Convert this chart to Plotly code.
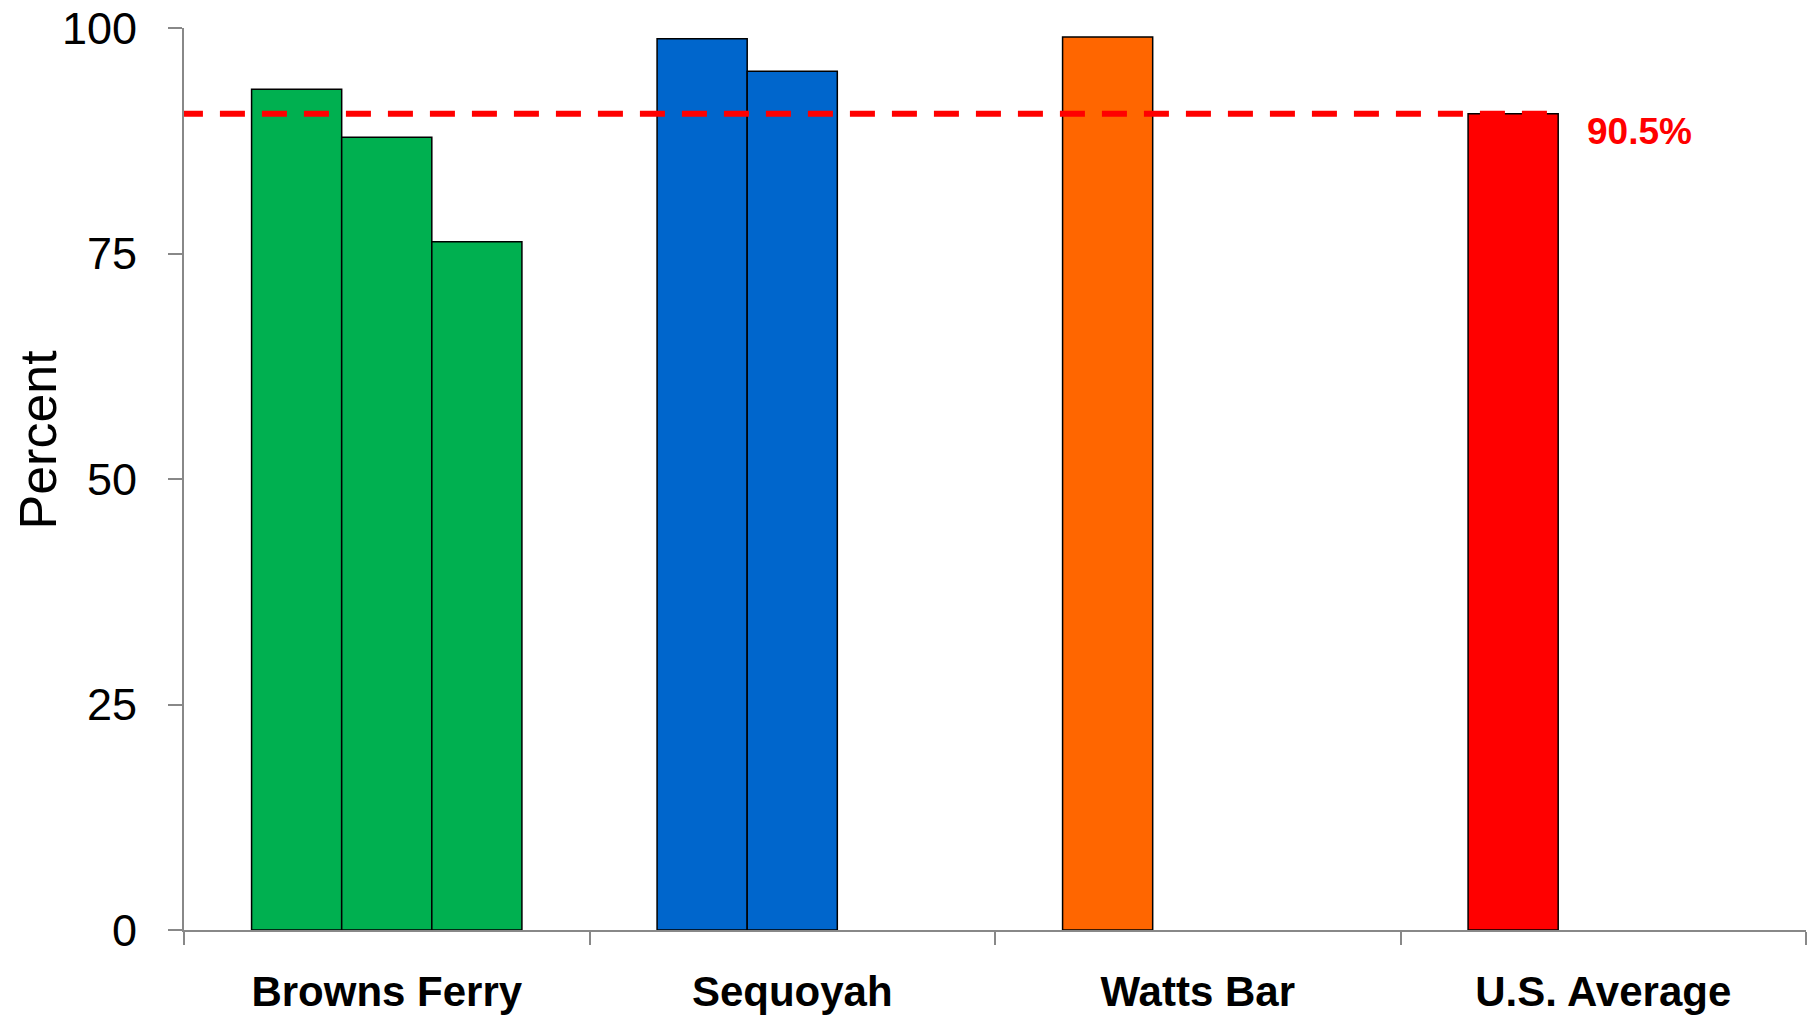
import plotly.graph_objects as go

categories = ["Browns Ferry", "Sequoyah", "Watts Bar", "U.S. Average"]
unit1 = [93.2, 98.8, 99.0, 90.5]
unit2 = [87.9, 95.2, None, None]
unit3 = [76.3, None, None, None]
plant_colors = ["#00B050", "#0066CC", "#FF6600", "#FF0000"]
us_average = 90.5
avg_label = "90.5%"
y_ticks = [0, 25, 50, 75, 100]

W, H = 1808, 1018
PL, PR, PT, PB = 184, 1806, 28, 930  # plot area in page px

fig = go.Figure()
for vals in (unit1, unit2, unit3):
    fig.add_trace(go.Bar(
        x=categories, y=vals,
        marker=dict(color=plant_colors, line=dict(color="black", width=1.5)),
        showlegend=False, hoverinfo="skip",
    ))

# dashed reference line for U.S. average
fig.add_shape(type="line", xref="x", yref="y",
              x0=-0.515, x1=2.87, y0=us_average, y1=us_average,
              line=dict(color="#FF0000", width=6, dash="25px,17px"), layer="above")

fig.add_annotation(x=(1639 - PL) / (PR - PL), xref="paper", y=us_average, yref="y",
                   xanchor="center", yanchor="middle",
                   text=f"<b>{avg_label}</b>", showarrow=False,
                   font=dict(family="Liberation Sans, Arial", size=37, color="#FF0000"),
                   yshift=-18)

fig.add_annotation(text="Percent", textangle=-90, showarrow=False,
                   xref="paper", yref="paper", xanchor="center", yanchor="middle",
                   x=(37.5 - PL) / (PR - PL), y=(PB - 440) / (PB - PT),
                   font=dict(family="Liberation Sans, Arial", size=52, color="black"))

fig.update_layout(
    width=W, height=H,
    margin=dict(l=PL, r=W - PR, t=PT, b=H - PB, autoexpand=False),
    plot_bgcolor="white", paper_bgcolor="white",
    barmode="group", bargap=1/3, bargroupgap=0,
    font=dict(family="Liberation Sans, Arial", color="black"),
)
fig.update_xaxes(
    automargin=False,
    showline=True, linecolor="#888888", linewidth=2,
    ticks="outside", ticklen=13, tickwidth=2, tickcolor="#888888",
    tickson="boundaries", showgrid=False, range=[-0.5, 3.5],
    tickfont=dict(family="Liberation Sans, Arial", size=42, color="black"),
    ticklabelstandoff=24, ticklabeloverflow="allow",
    tickvals=categories, ticktext=[f"<b>{c}</b>" for c in categories],
)
fig.update_yaxes(
    automargin=False,
    range=[0, 100], tickvals=y_ticks,
    showline=True, linecolor="#888888", linewidth=2,
    ticks="outside", ticklen=14, tickwidth=2, tickcolor="#888888",
    showgrid=False, zeroline=False,
    tickfont=dict(family="Liberation Sans, Arial", size=45, color="black"),
    ticklabelstandoff=22, ticklabeloverflow="allow",
)

fig.write_html(
    "out.html",
    config={"displayModeBar": False, "staticPlot": True},
    post_script="document.body.style.margin='0';document.body.style.overflow='hidden';",
)
